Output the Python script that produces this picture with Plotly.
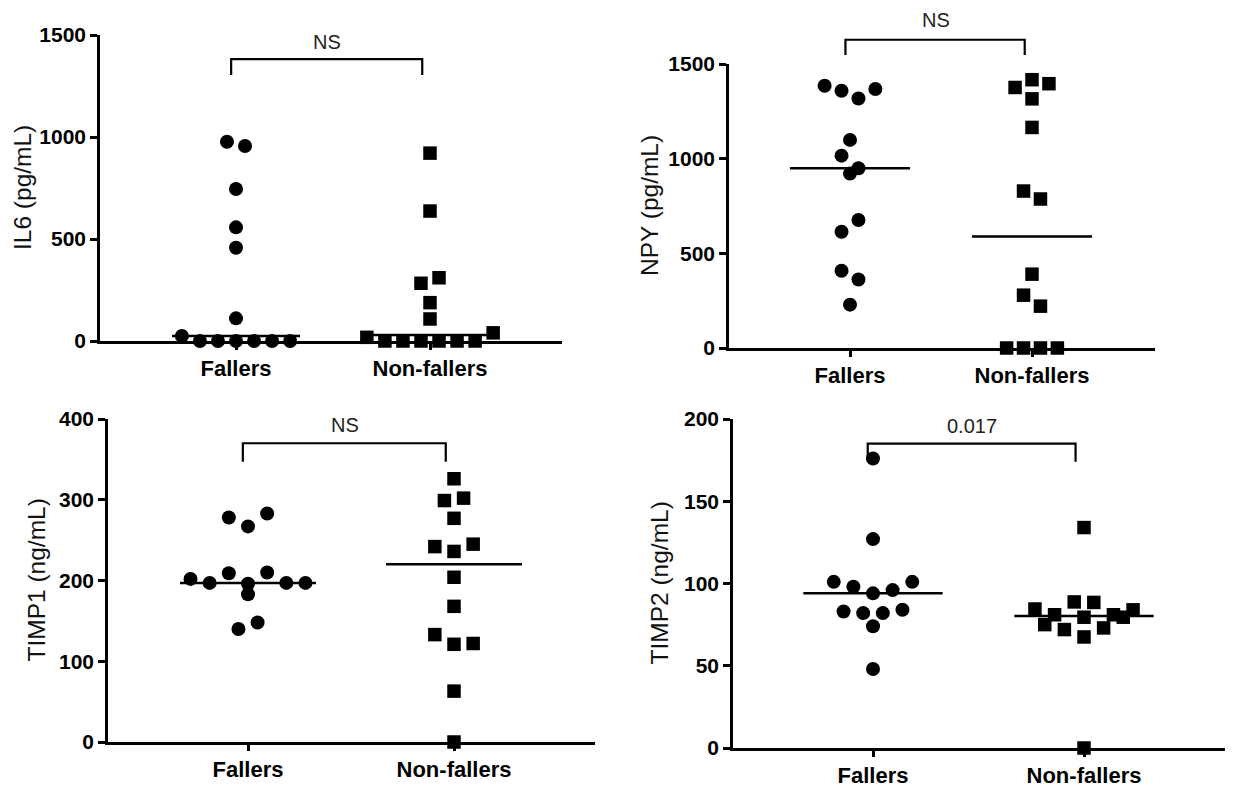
import numpy as np
import plotly.graph_objects as go

# ---------------- data ----------------
categories = ["Fallers", "Non-fallers"]

il6_fallers = [977, 956, 745, 557, 457, 111, 25, 0, 0, 0, 0, 0, 0]
il6_nonfallers = [921, 637, 283, 310, 188, 108, 18, 0, 0, 0, 0, 0, 0, 40]

npy_fallers = [1385, 1359, 1318, 1368, 1099, 1016, 949, 921, 614, 676, 408, 362, 229]
npy_nonfallers = [1376, 1417, 1396, 1316, 1165, 829, 787, 390, 279, 221, 0, 0, 0, 0]

timp1_fallers = [278, 267, 283, 202, 197, 209, 196, 210, 197, 197, 183, 140, 148]
timp1_nonfallers = [326, 299, 302, 277, 242, 236, 245, 204, 168, 133, 121, 122, 63, 0]

timp2_fallers = [176, 127, 101, 98, 94, 96, 101, 83, 82, 82, 84, 74, 48]
timp2_nonfallers = [134, 84.5, 81, 88.8, 88.5, 81, 84, 75, 72, 79.5, 73, 79.5, 67.5, 0]

y_titles = ["IL6 (pg/mL)", "NPY (pg/mL)", "TIMP1 (ng/mL)", "TIMP2 (ng/mL)"]
p_labels = ["NS", "NS", "NS", "0.017"]
y_ticks = [[0, 500, 1000, 1500], [0, 500, 1000, 1500],
           [0, 100, 200, 300, 400], [0, 50, 100, 150, 200]]

# ---------------- layout geometry (pixels of the 1234x787 page) ----------------
W, H = 1234, 787
PANELS = [
    dict(f=il6_fallers, nf=il6_nonfallers, ymax=1500, ax_left=100, ax_right=562,
         cat0=236, cat1=430, y_top=35, y_bottom=341, title_x=23,
         br_top=1382, br_leg=1304, br_text=1466),
    dict(f=npy_fallers, nf=npy_nonfallers, ymax=1500, ax_left=729, ax_right=1155,
         cat0=850, cat1=1032, y_top=64, y_bottom=348, title_x=650,
         br_top=1628, br_leg=1548, br_text=1734),
    dict(f=timp1_fallers, nf=timp1_nonfallers, ymax=400, ax_left=108, ax_right=595,
         cat0=248, cat1=454, y_top=419, y_bottom=742, title_x=36,
         br_top=370, br_leg=347, br_text=393),
    dict(f=timp2_fallers, nf=timp2_nonfallers, ymax=200, ax_left=733, ax_right=1225,
         cat0=873, cat1=1084, y_top=419, y_bottom=748, title_x=659,
         br_top=185, br_leg=174, br_text=196),
]

STEP = 0.093        # horizontal spacing of dots, in category units
ROW_PX = 13.2       # values closer than this (px) share a row
MIN_PX = 9.5        # minimum centre distance between dots of different rows
MEDIAN_HALF = 0.33  # half-width of the median bar, category units

FONT = "Arial, Liberation Sans, sans-serif"


def swarm(vals, px_x, px_y):
    """Prism-like scatter-dot layout: rows of close values spread symmetrically."""
    n = len(vals)
    order = sorted(range(n), key=lambda i: -vals[i])
    rows = []
    for i in order:
        if rows and (vals[rows[-1][0]] - vals[i]) * px_y <= ROW_PX:
            rows[-1].append(i)
        else:
            rows.append([i])
    off = [0.0] * n
    placed = []

    def ok(i, o):
        for j in placed:
            dx = (o - off[j]) * STEP * px_x
            dy = (vals[i] - vals[j]) * px_y
            if dx * dx + dy * dy < MIN_PX * MIN_PX:
                return False
        return True

    for row in rows:
        row = sorted(row)
        m = len(row)
        base = [k - (m - 1) / 2 for k in range(m)]
        done = False
        for s in [0, 0.5, -0.5, 1, -1]:
            if all(ok(i, b + s) for i, b in zip(row, base)):
                for i, b in zip(row, base):
                    off[i] = b + s
                placed.extend(row)
                done = True
                break
        if not done:
            cands = [0.0] + [sg * h for h in np.arange(0.5, 12, 0.5) for sg in (1, -1)]
            for i in row:
                for c in cands:
                    if ok(i, c):
                        off[i] = c
                        placed.append(i)
                        break
    return np.array(off) * STEP


fig = go.Figure()
annotations = []
shapes = []

for k, p in enumerate(PANELS, start=1):
    xid = "x" if k == 1 else f"x{k}"
    yid = "y" if k == 1 else f"y{k}"
    xname = "xaxis" if k == 1 else f"xaxis{k}"
    yname = "yaxis" if k == 1 else f"yaxis{k}"
    px_x = p["cat1"] - p["cat0"]
    px_y = (p["y_bottom"] - p["y_top"]) / p["ymax"]
    xr = [(p["ax_left"] - p["cat0"]) / px_x, (p["ax_right"] - p["cat0"]) / px_x]

    fig.update_layout({
        xname: dict(domain=[p["ax_left"] / W, p["ax_right"] / W], range=xr, anchor=yid,
                    automargin=False,
                    showline=True, linecolor="black", linewidth=2.5, showgrid=False,
                    zeroline=False, ticks="outside", ticklen=6, tickwidth=2.5,
                    tickcolor="black", tickvals=[0, 1], ticktext=categories,
                    ticklabelstandoff=0,
                    tickfont=dict(family=FONT, size=22, color="black", weight="bold")),
        yname: dict(domain=[1 - p["y_bottom"] / H, 1 - p["y_top"] / H],
                    range=[0, p["ymax"]], anchor=xid, automargin=False,
                    showline=True, linecolor="black", linewidth=2.5, showgrid=False,
                    zeroline=False, ticks="outside", ticklen=7, tickwidth=2.5,
                    tickcolor="black", tickvals=y_ticks[k - 1],
                    tickfont=dict(family=FONT, size=21, color="black", weight="bold")),
    })

    for g, (vals, sym, size) in enumerate([(p["f"], "circle", 14), (p["nf"], "square", 13.5)]):
        vals = np.array(vals, dtype=float)
        med = float(np.median(vals))
        fig.add_trace(go.Scatter(
            x=[g - MEDIAN_HALF, g + MEDIAN_HALF], y=[med, med], mode="lines",
            line=dict(color="black", width=2.5), xaxis=xid, yaxis=yid,
            showlegend=False, hoverinfo="skip"))
        offs = swarm(list(vals), px_x, px_y)
        fig.add_trace(go.Scatter(
            x=g + offs, y=vals, mode="markers", cliponaxis=False,
            marker=dict(symbol=sym, size=size, color="black", line=dict(width=0)),
            xaxis=xid, yaxis=yid, showlegend=False))

    # significance bracket (domain-referenced so it may sit above the axis)
    def dx(v):
        return (v - xr[0]) / (xr[1] - xr[0])

    def dy(v):
        return v / p["ymax"]

    bx0, bx1 = dx(-0.025), dx(0.96)
    shapes.append(dict(
        type="path", xref=f"{xid} domain", yref=f"{yid} domain",
        path=(f"M {bx0} {dy(p['br_leg'])} L {bx0} {dy(p['br_top'])} "
              f"L {bx1} {dy(p['br_top'])} L {bx1} {dy(p['br_leg'])}"),
        line=dict(color="black", width=2.2)))
    annotations.append(dict(
        x=dx(0.47), y=dy(p["br_text"]), xref=f"{xid} domain", yref=f"{yid} domain",
        text=p_labels[k - 1], showarrow=False, xanchor="center", yanchor="middle",
        font=dict(family=FONT, size=20, color="#222")))
    # y-axis title
    annotations.append(dict(
        x=p["title_x"] / W, y=1 - (p["y_top"] + p["y_bottom"]) / 2 / H,
        xref="paper", yref="paper", text=y_titles[k - 1], textangle=-90,
        showarrow=False, xanchor="center", yanchor="middle",
        font=dict(family=FONT, size=24.5, color="#111")))

fig.update_layout(
    width=W, height=H, margin=dict(l=0, r=0, t=0, b=0, autoexpand=False),
    paper_bgcolor="white", plot_bgcolor="white",
    annotations=annotations, shapes=shapes, showlegend=False,
)

fig.write_html("out.html")
